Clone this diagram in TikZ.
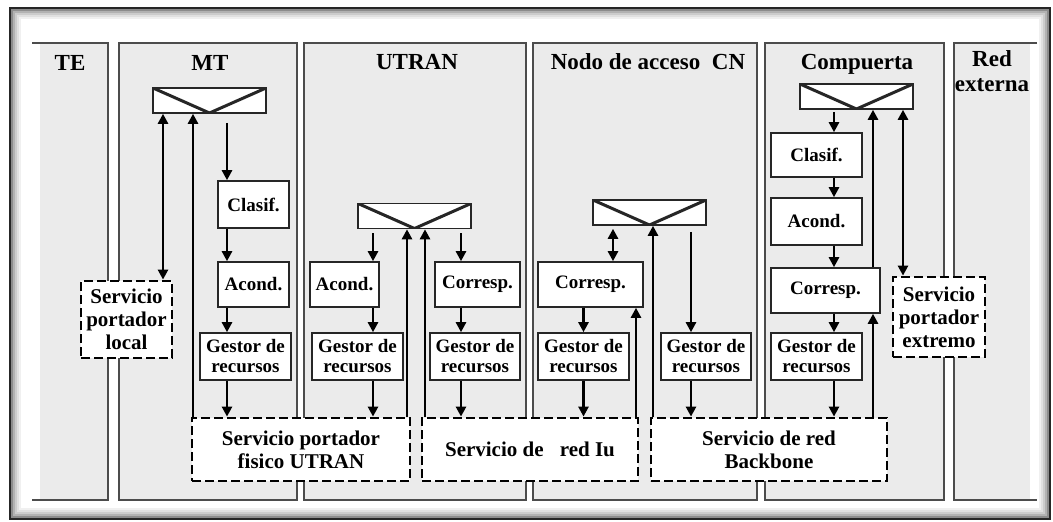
\documentclass[tikz,border=0pt]{standalone}
\usepackage{fontspec}
\setmainfont{Liberation Serif}
\usetikzlibrary{arrows.meta}

\tikzset{
  panel/.style={fill=black!8, draw=black!70, line width=1.5pt},
  edge/.style={draw=black!70, line width=1.5pt},
  title/.style={font=\fontsize{23}{25}\selectfont\bfseries, anchor=base, inner sep=0pt},
  blk/.style={draw=black!85, fill=white, line width=1.6pt, inner sep=0pt, align=center,
    font=\fontsize{19}{20}\selectfont\bfseries},
  svc/.style={draw=black, fill=white, line width=2.8pt, dash pattern=on 9pt off 4pt,
    inner sep=0pt, align=center, font=\fontsize{21}{23}\selectfont\bfseries},
  mux/.style={draw=black!85, fill=white, line width=1.6pt, minimum width=113pt,
    minimum height=25pt, inner sep=0pt,
    path picture={\draw[line width=3pt] (path picture bounding box.north west)
      -- (path picture bounding box.south) -- (path picture bounding box.north east);}},
  arr/.style={line width=2.6pt, -{Triangle[length=10pt,width=10pt]}},
  dbl/.style={line width=2.6pt, {Triangle[length=10pt,width=10pt]}-{Triangle[length=10pt,width=10pt]}},
}

\begin{document}
\begin{tikzpicture}[x=1pt,y=-1pt]
  \useasboundingbox (0,0) rectangle (1053,522);
  % frame
  \fill[white] (0,0) rectangle (1053,522);
  \foreach \i/\c in {1/45,2/30,3/20,4/12,5/6}
    \draw[black!\c, line width=2pt] (10+2*\i,8+2*\i) rectangle (1050-2*\i,519-2*\i);
  \draw[black!85, line width=2pt] (10,8) rectangle (1050,519);

  % domains
  \fill[black!8] (40,43) rectangle (108,500);
  \draw[edge] (32,43) -- (108,43) -- (108,500) -- (32,500);
  \draw[panel] (119,43) rectangle (297,500);
  \draw[panel] (304,43) rectangle (526,500);
  \draw[panel] (533,43) rectangle (757,500);
  \draw[panel] (765,43) rectangle (944,500);
  \fill[black!8] (954,43) rectangle (1030,500);
  \draw[edge] (1037,43) -- (954,43) -- (954,500) -- (1037,500);

  \node[title] (te) at (70,70) {TE};
  \node[title] (mt) at (210,70) {MT};
  \node[title] (utran) at (417,69) {UTRAN};
  \node[title] (cn) at (648,69) {Nodo de acceso\hspace{6pt} CN};
  \node[title] (gw) at (857,69) {Compuerta};
  \node[title, anchor=center, align=center] (ext) at (992,71) {Red\\externa};

  % MT
  \node[mux] (mtmux) at (209.5,100.5) {};
  \node[blk, minimum width=71pt, minimum height=47pt] (mtclas) at (253.5,204.5) {Clasif.};
  \node[blk, minimum width=71pt, minimum height=45pt] (mtacond) at (253.5,284.5) {Acond.};
  \node[blk, minimum width=91pt, minimum height=47pt] (mtgest) at (245.5,356.5) {Gestor de\\recursos};

  % UTRAN
  \node[mux] (utmux) at (414.5,216) {};
  \node[blk, minimum width=69pt, minimum height=45pt] (utacond) at (344.5,284.5) {Acond.};
  \node[blk, minimum width=85pt, minimum height=45pt] (utcorr) at (477.5,284.5) {Corresp.};
  \node[blk, minimum width=91pt, minimum height=47pt] (utgestA) at (357.5,356.5) {Gestor de\\recursos};
  \node[blk, minimum width=90pt, minimum height=47pt] (utgestB) at (475,356.5) {Gestor de\\recursos};

  % Nodo de acceso CN
  \node[mux] (cnmux) at (649.5,212.5) {};
  \node[blk, minimum width=105pt, minimum height=45pt] (cncorr) at (590.5,284.5) {Corresp.};
  \node[blk, minimum width=91pt, minimum height=47pt] (cngestA) at (583.5,356.5) {Gestor de\\recursos};
  \node[blk, minimum width=90pt, minimum height=47pt] (cngestB) at (706,356.5) {Gestor de\\recursos};

  % Compuerta
  \node[mux] (gwmux) at (856.5,96.5) {};
  \node[blk, minimum width=91pt, minimum height=44pt] (gwclas) at (816.5,155) {Clasif.};
  \node[blk, minimum width=91pt, minimum height=47pt] (gwacond) at (816.5,221.5) {Acond.};
  \node[blk, minimum width=109pt, minimum height=45pt] (gwcorr) at (825.5,290.5) {Corresp.};
  \node[blk, minimum width=91pt, minimum height=47pt] (gwgest) at (816.5,356.5) {Gestor de\\recursos};

  % servicios portadores
  \node[svc, minimum width=91pt, minimum height=77pt] (local) at (126.5,319.5) {Servicio\\portador\\local};
  \node[svc, minimum width=92pt, minimum height=80pt] (extremo) at (939,317) {Servicio\\portador\\extremo};
  \node[svc, minimum width=218pt, minimum height=63pt] (fisico) at (301,449.5) {Servicio portador\\fisico UTRAN};
  \node[svc, minimum width=216pt, minimum height=63pt] (iu) at (530,449.5) {Servicio de \hspace{11pt}red Iu};
  \node[svc, minimum width=236pt, minimum height=63pt] (backbone) at (769,449.5) {Servicio de red\\Backbone};

  % lanes
  \coordinate (mtl1) at (163,0);
  \coordinate (mtl2) at (193,0);
  \coordinate (mtl3) at (227,0);
  \coordinate (utl1) at (373,0);
  \coordinate (utl2) at (407,0);
  \coordinate (utl3) at (425,0);
  \coordinate (utl4) at (461,0);
  \coordinate (cnl1) at (613,0);
  \coordinate (cnl2) at (636,0);
  \coordinate (cnl3) at (653,0);
  \coordinate (cnl4) at (691,0);
  \coordinate (gwl1) at (834,0);
  \coordinate (gwl2) at (873,0);
  \coordinate (gwl3) at (903,0);

  % MT flows
  \draw[dbl] (mtmux.south -| mtl1) -- (local.north -| mtl1);
  \draw[arr] (fisico.north -| mtl2) -- (mtmux.south -| mtl2);
  \draw[arr, shorten <=9pt] (mtmux.south -| mtl3) -- (mtclas.north -| mtl3);
  \draw[arr] (mtclas.south -| mtl3) -- (mtacond.north -| mtl3);
  \draw[arr] (mtacond.south -| mtl3) -- (mtgest.north -| mtl3);
  \draw[arr] (mtgest.south -| mtl3) -- (fisico.north -| mtl3);

  % UTRAN flows
  \draw[arr, shorten <=4pt] (utmux.south -| utl1) -- (utacond.north -| utl1);
  \draw[arr] (utacond.south -| utl1) -- (utgestA.north -| utl1);
  \draw[arr] (utgestA.south -| utl1) -- (fisico.north -| utl1);
  \draw[arr] (fisico.north -| utl2) -- (utmux.south -| utl2);
  \draw[arr] (iu.north -| utl3) -- (utmux.south -| utl3);
  \draw[arr, shorten <=4pt] (utmux.south -| utl4) -- (utcorr.north -| utl4);
  \draw[arr] (utcorr.south -| utl4) -- (utgestB.north -| utl4);
  \draw[arr] (utgestB.south -| utl4) -- (iu.north -| utl4);

  % CN flows
  \draw[dbl, shorten <=3pt] (cnmux.south -| cnl1) -- (cncorr.north -| cnl1);
  \draw[arr] (cncorr.south -| cngestA) -- (cngestA.north);
  \draw[arr] (cngestA.south) -- (iu.north -| cngestA);
  \draw[arr] (iu.north -| cnl2) -- (cncorr.south -| cnl2);
  \draw[arr] (backbone.north -| cnl3) -- (cnmux.south -| cnl3);
  \draw[arr, shorten <=6pt] (cnmux.south -| cnl4) -- (cngestB.north -| cnl4);
  \draw[arr] (cngestB.south -| cnl4) -- (backbone.north -| cnl4);

  % Compuerta flows
  \draw[arr, shorten <=2pt] (gwmux.south -| gwl1) -- (gwclas.north -| gwl1);
  \draw[arr] (gwclas.south -| gwl1) -- (gwacond.north -| gwl1);
  \draw[arr] (gwacond.south -| gwl1) -- (gwcorr.north -| gwl1);
  \draw[arr] (gwcorr.south -| gwl1) -- (gwgest.north -| gwl1);
  \draw[arr] (gwgest.south -| gwl1) -- (backbone.north -| gwl1);
  \draw[arr] (backbone.north -| gwl2) -- (gwcorr.south -| gwl2);
  \draw[arr] (gwcorr.north -| gwl2) -- (gwmux.south -| gwl2);
  \draw[dbl] (gwmux.south -| gwl3) -- (extremo.north -| gwl3);
\end{tikzpicture}
\end{document}
